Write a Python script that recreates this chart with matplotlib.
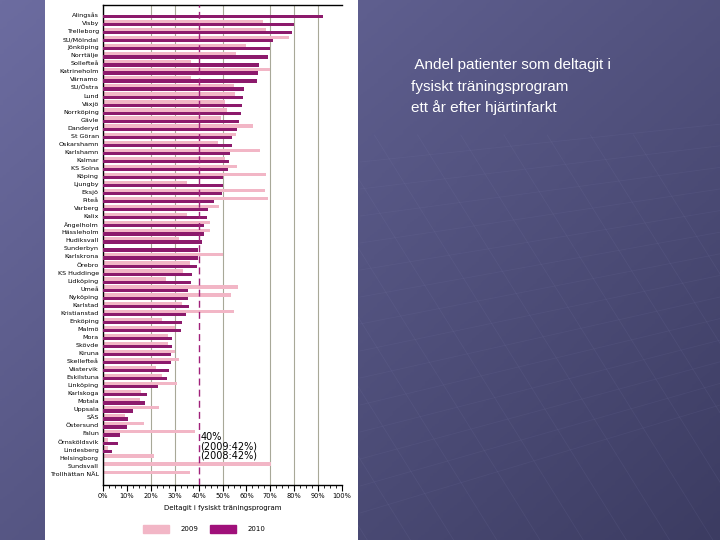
import numpy as np
import matplotlib.pyplot as plt
from matplotlib.patches import Rectangle
from matplotlib.colors import LinearSegmentedColormap

# sjukhus, uppifrån och ned
sjukhus = ["Alingsås", "Visby", "Trelleborg", "SU/Mölndal", "Jönköping", "Norrtälje",
           "Sollefteå", "Katrineholm", "Värnamo", "SU/Östra", "Lund", "Växjö",
           "Norrköping", "Gävle", "Danderyd", "St Göran", "Oskarshamn", "Karlshamn",
           "Kalmar", "KS Solna", "Köping", "Ljungby", "Eksjö", "Piteå", "Varberg",
           "Kalix", "Ängelholm", "Hässleholm", "Hudiksvall", "Sunderbyn", "Karlskrona",
           "Örebro", "KS Huddinge", "Lidköping", "Umeå", "Nyköping", "Karlstad",
           "Kristianstad", "Enköping", "Malmö", "Mora", "Skövde", "Kiruna",
           "Skellefteå", "Västervik", "Eskilstuna", "Linköping", "Karlskoga", "Motala",
           "Uppsala", "SÄS", "Östersund", "Falun", "Örnsköldsvik", "Lindesberg",
           "Helsingborg", "Sundsvall", "Trollhättan NÄL"]

ar2009 = [np.nan, 67, 68, 78, 60, 55.5, 37, 70, 37, 55, 55.2, 51,
          51.7, 49.2, 62.6, 55.5, 48.3, 65.6, 51, 55.9, 68.3, 35, 67.6, 68.9, 48.4,
          35, 44.6, 44.6, 32, np.nan, 50, 36.5, 33.6, 26.5, 56.5, 53.7, 33,
          55, 24.7, 30, 27, 27, 30, 31.7, 22, 24.7, 30.8, 16, 15.3,
          23.3, 9, 17.2, 38.4, 2, 2, 21.2, 70.2, 36.3]

ar2010 = [92.2, 80, 79, 71, 70, 69, 65.3, 64.9, 64.4, 59, 58.4, 58.2,
          57.7, 56.9, 55.9, 54.1, 53.8, 53, 52.6, 52.2, 50, 50, 49.7, 46.6, 43.8,
          43.4, 42.4, 42.4, 41.6, 39.7, 39.7, 39.5, 37.1, 36.7, 35.7, 35.7, 35.8,
          34.6, 33.2, 32.8, 29, 28.7, 28.6, 28.6, 27.5, 26.6, 22.9, 18.3, 17.4,
          12.4, 10.6, 10.2, 7, 6.4, 3.9, np.nan, np.nan, np.nan]

rosa = "#f2b6c6"
lila = "#8c1a6c"

fig = plt.figure(figsize=(7.2, 5.4), dpi=100)

# bakgrund: mörk blålila gradient
bg = fig.add_axes([0, 0, 1, 1], zorder=-5)
gx, gy = np.meshgrid(np.linspace(0, 1, 200), np.linspace(0, 1, 200))
grad = 0.55 * gx + 0.45 * gy
cmap_bg = LinearSegmentedColormap.from_list("bg", ["#6c6ca0", "#3c3c62"])
bg.imshow(grad, extent=[0, 1, 0, 1], cmap=cmap_bg, aspect="auto", origin="upper")
for k in range(14):
    x0 = 0.45 + k * 0.06
    bg.plot([x0, x0 - 0.35], [0.0, 0.75], color="#8888b8", lw=0.6, alpha=0.12)
    bg.plot([0.5, 1.0], [0.05 + k * 0.05, 0.25 + k * 0.04], color="#8888b8", lw=0.6, alpha=0.1)
bg.set_xlim(0, 1)
bg.set_ylim(0, 1)
bg.axis("off")

# vit panel
fig.patches.append(Rectangle((45 / 720, 0), 313 / 720, 1, transform=fig.transFigure,
                             facecolor="white", edgecolor="none", zorder=-1))

ax = fig.add_axes([103 / 720, 55 / 540, 239 / 720, 480 / 540])
ax.set_facecolor("white")
y = np.arange(len(sjukhus))
ax.barh(y - 0.2, ar2009, height=0.4, color=rosa, zorder=2)
ax.barh(y + 0.2, ar2010, height=0.4, color=lila, zorder=3)

ax.set_xlim(0, 100)
ax.set_ylim(len(sjukhus) - 1 + 1.4, -1.25)
for g in [20, 30, 50, 70, 80, 90]:
    ax.axvline(g, color="#a8a898", lw=0.8, zorder=1)
ax.axvline(40, color="#a0207a", lw=1.0, ls=(0, (5, 3)), zorder=4)

ax.set_yticks(y)
ax.set_yticklabels(sjukhus, fontsize=4.6)
ax.tick_params(axis="y", length=0, pad=3)
ax.set_xticks(np.arange(0, 101, 10))
ax.set_xticklabels([f"{v}%" for v in range(0, 101, 10)], fontsize=4.8)
ax.set_xticks(np.arange(0, 101, 2.5), minor=True)
ax.tick_params(axis="x", length=4, width=0.8, pad=2)
ax.tick_params(axis="x", which="minor", length=2, width=0.6)
ax.spines["right"].set_visible(False)
for s in ["top", "left", "bottom"]:
    ax.spines[s].set_linewidth(1.0)
ax.set_xlabel("Deltagit i fysiskt träningsprogram", fontsize=5, labelpad=4)

ax.text(40.8, 53.6, "40%\n(2009:42%)\n(2008:42%)", fontsize=7, va="center",
        ha="left", linespacing=0.9, zorder=5)

handles = [Rectangle((0, 0), 1, 1, color=rosa), Rectangle((0, 0), 1, 1, color="#a0107a")]
fig.legend(handles, ["2009", "2010"], loc="center", bbox_to_anchor=(204 / 720, 1 - 529 / 540),
           ncol=2, frameon=False, fontsize=5, handlelength=3.8, handleheight=1.2,
           columnspacing=1.6, handletextpad=1.6)

fig.text(411 / 720, 1 - 65 / 540, " Andel patienter som deltagit i", color="white",
         fontsize=11, family="Liberation Sans", va="center")
fig.text(411 / 720, 1 - 87 / 540, "fysiskt träningsprogram", color="white",
         fontsize=11, family="Liberation Sans", va="center")
fig.text(411 / 720, 1 - 108 / 540, "ett år efter hjärtinfarkt", color="white",
         fontsize=11, family="Liberation Sans", va="center")

fig.savefig("out.png", dpi=100)
